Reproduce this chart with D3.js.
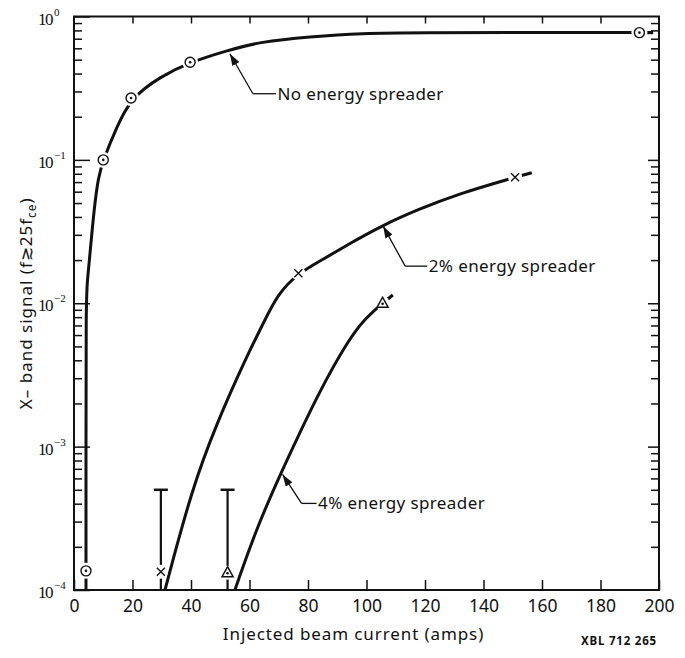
<!DOCTYPE html>
<html>
<head>
<meta charset="utf-8">
<script src="https://cdn.jsdelivr.net/npm/d3@7"></script>
<style>
	body { margin: 0; background: #fff; }
	svg { display: block; }
	text { font-family: "Noto Sans", "Open Sans", sans-serif; fill: #111; }
	.tick line { stroke: #111; stroke-width: 1.5; }
	.ylab text { font-family: "Liberation Serif", serif; }
</style>
</head>
<body>
<div id="chart"></div>
<script>

// Data: [current (amps), X-band signal]
const noSpreadCurve = [[4.1,1e-4],[4.1,1e-3],[4.1,0.01],[4.55,0.0145],[5.7,0.0248],[6.8,0.044],
	[8.3,0.0763],[10,0.1],[14.6,0.17],[19.5,0.27],[29.4,0.38],[39.7,0.48],[52.2,0.577],
	[63.6,0.667],[80.7,0.723],[97.8,0.765],[120,0.772],[150,0.772],[193.3,0.772]];
const noSpreadMarks = [[4.1,1.36e-4],[10,0.1],[19.5,0.27],[39.7,0.48],[193.3,0.772]];
const noSpreadExt = [[193.3,0.772],[198,0.772]];

const spread2Curve = [[31.1,1e-4],[40.2,4.99e-4],[48.8,1.46e-3],[59,4.24e-3],[64.7,7.24e-3],
	[69.8,0.01173],[76.7,0.0162],[84.7,0.02],[94.4,0.0262],[105.7,0.0351],[117.2,0.0447],
	[132,0.0585],[150.8,0.0756]];
const spread2Marks = [[29.7,1.34e-4],[76.7,0.0162],[150.8,0.0756]];
const spread2Ext = [[150.8,0.0756],[156.5,0.0814]];

const spread4Curve = [[55,1e-4],[63,2.92e-4],[73.3,8.51e-4],[84.1,2.48e-3],[93.8,5.54e-3],
	[99.5,7.84e-3],[105.5,0.01]];
const spread4Marks = [[52.5,1.32e-4],[105.5,0.01]];
const spread4Ext = [[105.5,0.01],[109,0.0114]];

// Threshold bars: [current, low, high]
const errorBars = [[29.7,1e-4,5e-4],[52.5,1e-4,5e-4]];

// Labels with arrows pointing at the curves.
const labelNames = ["No energy spreader", "2% energy spreader", "4% energy spreader"];
const labelTargets = [[53.3,0.55],[105.7,0.0345],[71.3,6.4e-4]];

const xTicks = [0,20,40,60,80,100,120,140,160,180,200];
const decades = [1e-4,1e-3,1e-2,1e-1,1];
const expLabels = ["\u22124","\u22123","\u22122","\u22121","0"];


// Dimensions of chart.
let margin = { top: 16.5, right: 26, bottom: 68, left: 74 },
	width = 685 - margin.left - margin.right,
	height = 658 - margin.top - margin.bottom;

let svg = d3.select("#chart").append("svg")
	.attr("width", 685)
	.attr("height", 658);

// Arrow head.
svg.append("defs").append("marker")
	.attr("id", "arrow")
	.attr("markerUnits", "userSpaceOnUse")
	.attr("viewBox", "0 0 12 8")
	.attr("refX", 12).attr("refY", 4)
	.attr("markerWidth", 12).attr("markerHeight", 8)
	.attr("orient", "auto")
  .append("path")
	.attr("d", "M0,0L12,4L0,8Z")
	.attr("fill", "#111");


// Scales
let x = d3.scaleLinear()
	.domain([0, 200])
	.range([margin.left, margin.left + width]);

let y = d3.scaleLog()
	.domain([1e-4, 1])
	.range([margin.top + height, margin.top]);

let minorTicks = [];
decades.slice(0, -1).forEach(d => {
	for (let k = 2; k <= 9; k++) minorTicks.push(d * k);
});


// Axes (ticks drawn inward).
svg.append("g")
	.attr("transform", "translate(0," + y(1e-4) + ")")
	.call(d3.axisBottom(x).tickValues(xTicks).tickSize(-10).tickPadding(9))
	.call(g => g.select(".domain").remove())
	.call(g => g.selectAll("text").style("font-size", "17.5px").attr("dy", "0.75em"));

svg.append("g")
	.attr("transform", "translate(0," + y(1) + ")")
	.call(d3.axisTop(x).tickValues(xTicks.slice(1, -1)).tickSize(-7).tickFormat(""))
	.call(g => g.select(".domain").remove());

svg.append("g")
	.attr("transform", "translate(" + x(0) + ",0)")
	.call(d3.axisLeft(y).tickValues(minorTicks).tickSize(-8).tickFormat(""))
	.call(g => g.select(".domain").remove());

let yLab = svg.append("g")
	.attr("class", "ylab")
	.attr("transform", "translate(" + x(0) + ",0)")
	.call(d3.axisLeft(y).tickValues(decades).tickSize(-16).tickFormat(""))
	.call(g => g.select(".domain").remove());
yLab.selectAll(".tick text").remove();
yLab.selectAll(".tick").each(function(d, i) {
	let t = d3.select(this).append("text")
		.attr("x", 38 - x(0))
		.attr("y", 7.5)
		.attr("text-anchor", "start")
		.style("font-size", "17px")
		.style("letter-spacing", "-1.5px");
	t.append("tspan").text("10");
	t.append("tspan")
		.attr("dx", 2)
		.attr("dy", -9)
		.style("font-size", "11px")
		.style("letter-spacing", "0px")
		.text(expLabels[i]);
});

svg.append("g")
	.attr("transform", "translate(" + x(200) + ",0)")
	.call(d3.axisRight(y).tickValues(minorTicks).tickSize(-8).tickFormat(""))
	.call(g => g.select(".domain").remove());
svg.append("g")
	.attr("transform", "translate(" + x(200) + ",0)")
	.call(d3.axisRight(y).tickValues(decades.slice(1, -1)).tickSize(-11).tickFormat(""))
	.call(g => g.select(".domain").remove());


// Curves
let line = d3.line()
	.x(d => x(d[0]))
	.y(d => y(d[1]))
	.curve(d3.curveBasis);

let curves = svg.append("g").attr("fill", "none").attr("stroke", "#111");
[noSpreadCurve, spread2Curve, spread4Curve].forEach(c => {
	curves.append("path").attr("d", line(c)).attr("stroke-width", 3);
});
[noSpreadExt, spread2Ext, spread4Ext].forEach(c => {
	curves.append("path").attr("d", d3.line().x(d => x(d[0])).y(d => y(d[1]))(c))
		.attr("stroke-width", 3.2);
});

// Threshold bars
errorBars.forEach(b => {
	curves.append("line")
		.attr("x1", x(b[0])).attr("x2", x(b[0]))
		.attr("y1", y(b[1])).attr("y2", y(b[2]))
		.attr("stroke-width", 2.2);
	curves.append("line")
		.attr("x1", x(b[0]) - 7).attr("x2", x(b[0]) + 7)
		.attr("y1", y(b[2])).attr("y2", y(b[2]))
		.attr("stroke-width", 2.5);
});


// Markers, each with a white gap around it.
let allMarks = noSpreadMarks.map(d => ["o", d])
	.concat(spread2Marks.map(d => ["x", d]))
	.concat(spread4Marks.map(d => ["t", d]));

let marks = svg.append("g");
allMarks.forEach(m => {
	let cx = x(m[1][0]), cy = y(m[1][1]);
	let g = marks.append("g").attr("transform", "translate(" + cx + "," + cy + ")");
	g.append("circle").attr("r", m[0] == "o" ? 8 : 7).attr("fill", "#fff");
	if (m[0] == "o") {
		g.append("circle").attr("r", 5).attr("fill", "#fff")
			.attr("stroke", "#111").attr("stroke-width", 1.4);
		g.append("circle").attr("r", 1.3).attr("fill", "#111");
	} else if (m[0] == "x") {
		g.append("path").attr("d", "M-4,-4L4,4M-4,4L4,-4")
			.attr("stroke", "#111").attr("stroke-width", 1.4);
	} else {
		g.append("path").attr("d", "M0,-6L5.5,4L-5.5,4Z").attr("fill", "#fff")
			.attr("stroke", "#111").attr("stroke-width", 1.5);
		g.append("circle").attr("cy", 0.5).attr("r", 1.3).attr("fill", "#111");
	}
});


// Labels with leaders: elbow offset then a short horizontal run.
const leaderElbow = [[23, 40, 23], [22, 40, 22], [19, 29, 15]];
let notes = svg.append("g");
labelNames.forEach((name, i) => {
	let tx = x(labelTargets[i][0]), ty = y(labelTargets[i][1]);
	let ex = tx + leaderElbow[i][0], ey = ty + leaderElbow[i][1];
	notes.append("line")
		.attr("x1", ex).attr("y1", ey).attr("x2", tx).attr("y2", ty)
		.attr("stroke", "#111").attr("stroke-width", 1.3)
		.attr("marker-end", "url(#arrow)");
	notes.append("line")
		.attr("x1", ex).attr("y1", ey).attr("x2", ex + leaderElbow[i][2]).attr("y2", ey)
		.attr("stroke", "#111").attr("stroke-width", 1.3);
	notes.append("text")
		.attr("x", ex + leaderElbow[i][2] + 1.5)
		.attr("y", ey + 6)
		.style("font-size", "17px")
		.style("letter-spacing", "0.4px")
		.text(name);
});


// Frame
svg.append("rect")
	.attr("x", x(0)).attr("y", y(1))
	.attr("width", x(200) - x(0)).attr("height", y(1e-4) - y(1))
	.attr("fill", "none").attr("stroke", "#111").attr("stroke-width", 2);


// Axis titles
svg.append("text")
	.attr("x", (x(0) + x(200)) / 2 - 13)
	.attr("y", 640)
	.attr("text-anchor", "middle")
	.style("font-size", "17px")
	.style("letter-spacing", "0.9px")
	.text("Injected beam current (amps)");

let yTitle = svg.append("text")
	.attr("transform", "translate(32," + ((y(1) + y(1e-4)) / 2) + ") rotate(-90)")
	.attr("text-anchor", "middle")
	.style("font-size", "17px")
	.style("letter-spacing", "1px");
yTitle.append("tspan").text("X\u2013 band signal (f\u227325f");
yTitle.append("tspan").attr("dy", 4).style("font-size", "12px").text("ce");
yTitle.append("tspan").attr("dy", -4).text(")");

svg.append("text")
	.attr("x", 657)
	.attr("y", 645)
	.attr("text-anchor", "end")
	.style("font-size", "11.5px")
	.style("font-weight", "bold")
	.style("letter-spacing", "0.8px")
	.text("XBL 712 265");

</script>
</body>
</html>
